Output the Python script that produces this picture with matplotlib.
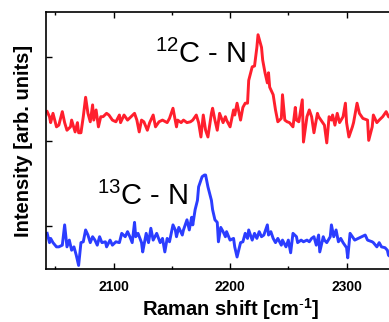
import matplotlib
matplotlib.use("Agg")
import matplotlib.pyplot as plt
from matplotlib.ticker import MultipleLocator, NullFormatter

plt.rcParams['font.family'] = ['Liberation Sans', 'DejaVu Sans']
plt.rcParams['mathtext.fontset'] = 'custom'
plt.rcParams['mathtext.rm'] = 'Liberation Sans'
plt.rcParams['mathtext.bf'] = 'Liberation Sans:bold'

# 12C-N spectrum (red, offset upward)
x_12 = [2043, 2045, 2046, 2048, 2051, 2053, 2056, 2058, 2060, 2063,
        2064, 2067, 2069, 2070, 2072, 2074, 2076, 2078, 2080, 2082,
        2083, 2085, 2087, 2089, 2091, 2094, 2096, 2099, 2102, 2105,
        2106, 2109, 2112, 2115, 2118, 2120, 2122, 2124, 2126, 2129,
        2131, 2134, 2136, 2139, 2142, 2146, 2148, 2151, 2154, 2155,
        2158, 2160, 2163, 2166, 2168, 2171, 2173, 2175, 2177, 2179,
        2181, 2184, 2185, 2187, 2189, 2191, 2194, 2196, 2197, 2200,
        2203, 2204, 2206, 2209, 2211, 2213, 2215, 2216, 2219, 2221,
        2223, 2224, 2227, 2228, 2230, 2232, 2233, 2234, 2237, 2239,
        2241, 2244, 2245, 2247, 2249, 2251, 2254, 2256, 2257, 2259,
        2262, 2263, 2266, 2268, 2270, 2272, 2275, 2276, 2279, 2281,
        2283, 2285, 2287, 2288, 2290, 2292, 2294, 2297, 2299, 2300,
        2302, 2305, 2306, 2309, 2311, 2314, 2318, 2319, 2322, 2323,
        2326, 2328, 2331, 2334, 2336, 2339]
y_12 = [1.35, 1.29, 1.22, 1.33, 1.17, 1.19, 1.35, 1.22, 1.13, 1.17,
        1.25, 1.11, 1.22, 1.10, 1.10, 1.29, 1.52, 1.33, 1.23, 1.43,
        1.25, 1.37, 1.17, 1.29, 1.29, 1.33, 1.31, 1.25, 1.23, 1.31,
        1.22, 1.31, 1.25, 1.29, 1.33, 1.25, 1.11, 1.25, 1.23, 1.13,
        1.22, 1.31, 1.17, 1.23, 1.25, 1.22, 1.27, 1.39, 1.17, 1.25,
        1.22, 1.25, 1.22, 1.23, 1.25, 1.31, 1.22, 1.05, 1.31, 1.13,
        1.05, 1.33, 1.39, 1.25, 1.13, 1.33, 1.22, 1.29, 1.25, 1.17,
        1.37, 1.31, 1.45, 1.25, 1.40, 1.45, 1.45, 1.72, 1.88, 1.89,
        2.11, 2.26, 2.11, 1.96, 1.81, 1.69, 1.81, 1.64, 1.55, 1.37,
        1.23, 1.27, 1.55, 1.25, 1.23, 1.22, 1.17, 1.40, 1.25, 1.23,
        1.49, 0.99, 1.29, 1.37, 1.29, 1.10, 1.33, 1.29, 1.23, 1.19,
        0.98, 1.29, 1.25, 1.31, 1.19, 1.33, 1.22, 1.29, 1.45, 1.22,
        1.05, 1.17, 1.22, 1.45, 1.33, 1.27, 1.25, 1.01, 1.17, 1.31,
        1.22, 1.25, 1.29, 1.35, 1.29, 1.27]

# 13C-N spectrum (blue)
x_13 = [2043, 2045, 2046, 2048, 2051, 2053, 2056, 2058, 2060, 2062,
        2064, 2066, 2068, 2070, 2072, 2074, 2076, 2078, 2080, 2082,
        2084, 2086, 2088, 2090, 2093, 2094, 2097, 2099, 2102, 2105,
        2107, 2110, 2112, 2114, 2116, 2118, 2119, 2121, 2124, 2125,
        2128, 2130, 2132, 2134, 2137, 2140, 2142, 2144, 2146, 2148,
        2151, 2153, 2154, 2156, 2159, 2160, 2163, 2165, 2167, 2168,
        2170, 2172, 2173, 2176, 2178, 2179, 2181, 2184, 2185, 2187,
        2189, 2190, 2192, 2194, 2196, 2197, 2200, 2203, 2204, 2206,
        2209, 2211, 2213, 2215, 2216, 2219, 2221, 2223, 2225, 2227,
        2229, 2232, 2233, 2235, 2237, 2239, 2241, 2244, 2245, 2248,
        2250, 2252, 2254, 2257, 2258, 2261, 2263, 2266, 2268, 2270,
        2272, 2274, 2276, 2277, 2280, 2281, 2283, 2286, 2287, 2289,
        2291, 2293, 2295, 2297, 2300, 2301, 2303, 2306, 2307, 2310,
        2313, 2316, 2318, 2322, 2323, 2326, 2328, 2330, 2333, 2335,
        2336, 2339]
y_13 = [-0.09, -0.20, -0.15, -0.20, -0.25, -0.25, -0.23, 0.01, -0.25, -0.17,
        -0.29, -0.25, -0.35, -0.47, -0.20, -0.19, -0.05, -0.11, -0.20, -0.13,
        -0.17, -0.23, -0.13, -0.20, -0.19, -0.25, -0.17, -0.23, -0.19, -0.20,
        -0.09, -0.13, -0.07, -0.13, -0.20, 0.04, -0.13, -0.09, -0.20, -0.31,
        -0.09, -0.20, -0.03, -0.17, -0.09, -0.20, -0.15, -0.31, -0.15, -0.19,
        0.01, -0.05, -0.13, -0.02, -0.11, -0.05, 0.07, -0.05, 0.10, 0.01,
        0.19, 0.30, 0.46, 0.58, 0.60, 0.60, 0.46, 0.30, 0.19, 0.07,
        0.04, -0.19, -0.02, -0.07, -0.13, -0.07, -0.17, -0.15, -0.25, -0.37,
        -0.20, -0.19, -0.09, -0.15, -0.05, -0.17, -0.09, -0.15, -0.07, -0.13,
        -0.11, 0.01, -0.11, -0.07, -0.15, -0.20, -0.15, -0.23, -0.17, -0.25,
        -0.17, -0.32, -0.09, -0.13, -0.20, -0.17, -0.19, -0.17, -0.19, -0.15,
        -0.13, -0.23, -0.11, -0.31, -0.13, -0.17, -0.20, -0.13, 0.01, -0.13,
        -0.05, -0.19, -0.15, -0.20, -0.26, -0.38, -0.09, -0.15, -0.17, -0.15,
        -0.13, -0.11, -0.17, -0.19, -0.20, -0.25, -0.20, -0.25, -0.26, -0.29,
        -0.35, -0.38]

x_ticks = [2100, 2200, 2300]
y_ticks = [0, 1, 2]

fig = plt.figure(figsize=(3.89, 3.22), dpi=100)
ax = fig.add_axes([46 / 389, 1 - 269 / 322, 370 / 389, 257 / 322])

ax.plot(x_12, y_12, color='#ff1f2d', lw=2.1)
ax.plot(x_13, y_13, color='#2b3dff', lw=2.1)

ax.set_xlim(2042, 2359.6)
ax.set_ylim(-0.512, 2.529)

ax.set_xticks(x_ticks)
ax.xaxis.set_minor_locator(MultipleLocator(50))
ax.set_yticks(y_ticks)
ax.yaxis.set_major_formatter(NullFormatter())
ax.tick_params(which='both', direction='in', top=True, right=True, width=1.0)
ax.tick_params(which='major', length=4, pad=8, labelsize=10)
ax.tick_params(which='minor', length=2.5)
for lab in ax.get_xticklabels():
    lab.set_fontweight('bold')
for sp in ax.spines.values():
    sp.set_linewidth(1.2)

ax.set_xlabel(r'Raman shift [cm$\mathbf{^{\text{-}1}}$]', fontsize=14.5, fontweight='bold', labelpad=1.5)
ax.set_ylabel('Intensity [arb. units]', fontsize=14.5, fontweight='bold', labelpad=1)

ax.text(2135.6, 1.925, r'$\mathregular{^{12}}$C - N', fontsize=21, ha='left', va='baseline')
ax.text(2085.8, 0.245, r'$\mathregular{^{13}}$C - N', fontsize=21, ha='left', va='baseline')

fig.savefig('out.png', dpi=100)
